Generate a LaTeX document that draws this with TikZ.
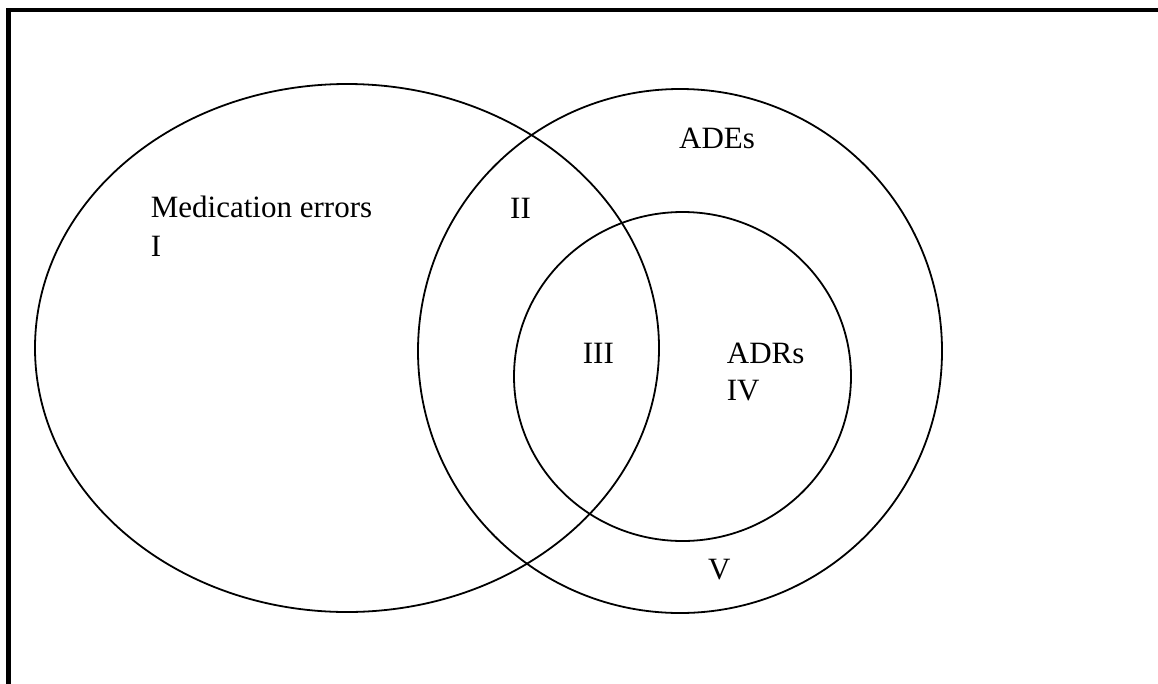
\documentclass[tikz,border=0pt]{standalone}
\usepackage{fontspec}
\setmainfont{Liberation Serif}
\begin{document}
\begin{tikzpicture}[x=1pt,y=-1pt,
  lbl/.style={anchor=base west,inner sep=0pt,font=\fontsize{31}{37}\selectfont},
  venn/.style={draw=black,line width=1.8pt},
  frame/.style={draw=black,line width=4.2pt}]
\useasboundingbox (0,0) rectangle (1158,683);
\clip (0,0) rectangle (1158,683);
\fill[white] (0,0) rectangle (1158,683);
\draw[frame] (8.5,700) -- (8.5,10) -- (1180,10);
\draw[venn] (347,348) ellipse [x radius=312, y radius=264];
\draw[venn] (680,351) ellipse [x radius=262, y radius=262];
\draw[venn] (682.5,376.5) ellipse [x radius=168.5, y radius=164.5];
\node[lbl] (med) at (150.7,217.7) {Medication errors};
\node[lbl] (one) at (150.7,256) {I};
\node[lbl] (two) at (510,218) {II};
\node[lbl] (ades) at (679,148) {ADEs};
\node[lbl] (three) at (582.7,363.3) {III};
\node[lbl] (adrs) at (726.7,363.3) {ADRs};
\node[lbl] (four) at (726.7,400.7) {IV};
\node[lbl] (five) at (708,579) {V};
\end{tikzpicture}
\end{document}
